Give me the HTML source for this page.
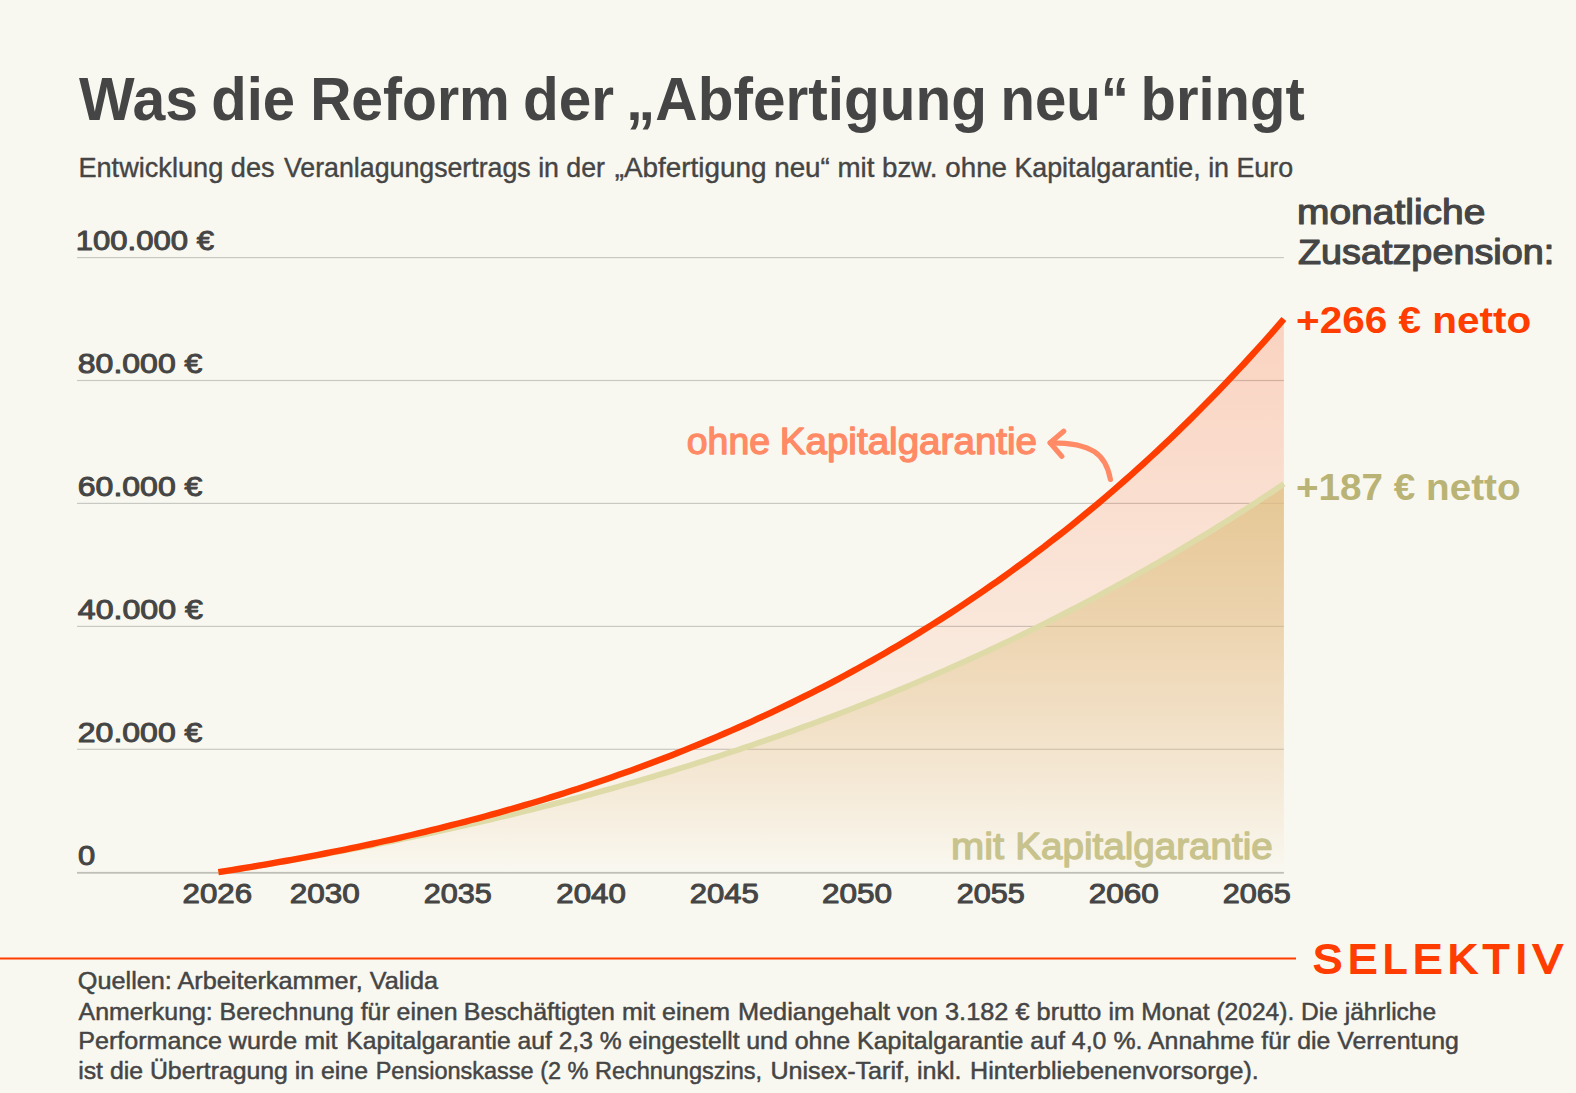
<!DOCTYPE html>
<html lang="de"><head><meta charset="utf-8"><title>Was die Reform der „Abfertigung neu“ bringt</title>
<style>
html,body{margin:0;padding:0;background:#f9f8f0;}
body{width:1576px;height:1093px;overflow:hidden;}
svg text{font-family:"Liberation Sans",sans-serif;white-space:pre;}
</style></head><body>
<svg width="1576" height="1093" viewBox="0 0 1576 1093" style="display:block">
<defs>
<linearGradient id="go" x1="0" y1="319.1" x2="0" y2="872.2" gradientUnits="userSpaceOnUse">
<stop offset="0" stop-color="#ff3d00" stop-opacity="0.20"/><stop offset="1" stop-color="#ff3d00" stop-opacity="0.0"/></linearGradient>
<linearGradient id="gt" x1="0" y1="483.8" x2="0" y2="872.2" gradientUnits="userSpaceOnUse">
<stop offset="0" stop-color="#e0c184" stop-opacity="0.78"/><stop offset="1" stop-color="#e0c184" stop-opacity="0.0"/></linearGradient>
</defs>
<rect width="1576" height="1093" fill="#f9f8f0"/>
<rect x="77" y="257.0" width="1206.9" height="1.2" fill="#c9c9c3"/>
<rect x="77" y="379.9" width="1206.9" height="1.2" fill="#c9c9c3"/>
<rect x="77" y="502.8" width="1206.9" height="1.2" fill="#c9c9c3"/>
<rect x="77" y="625.8" width="1206.9" height="1.2" fill="#c9c9c3"/>
<rect x="77" y="748.7" width="1206.9" height="1.2" fill="#c9c9c3"/>
<rect x="77" y="871.9" width="1206.9" height="1.8" fill="#bfbfb8"/>
<path d="M218.4,872.2 L225.1,871.2 L231.7,870.1 L238.4,869.0 L245.0,867.9 L251.7,866.8 L258.4,865.7 L265.0,864.6 L271.7,863.4 L278.3,862.2 L285.0,861.0 L291.7,859.8 L298.3,858.6 L305.0,857.4 L311.6,856.1 L318.3,854.8 L325.0,853.5 L331.6,852.2 L338.3,850.9 L344.9,849.6 L351.6,848.2 L358.2,846.8 L364.9,845.4 L371.6,844.0 L378.2,842.5 L384.9,841.0 L391.5,839.6 L398.2,838.1 L404.9,836.5 L411.5,835.0 L418.2,833.4 L424.8,831.8 L431.5,830.2 L438.2,828.6 L444.8,826.9 L451.5,825.2 L458.1,823.5 L464.8,821.8 L471.5,820.0 L478.1,818.3 L484.8,816.5 L491.4,814.6 L498.1,812.8 L504.8,810.9 L511.4,809.0 L518.1,807.1 L524.7,805.2 L531.4,803.2 L538.1,801.2 L544.7,799.2 L551.4,797.1 L558.0,795.1 L564.7,793.0 L571.4,790.8 L578.0,788.7 L584.7,786.5 L591.3,784.3 L598.0,782.0 L604.7,779.8 L611.3,777.5 L618.0,775.1 L624.6,772.8 L631.3,770.4 L637.9,767.9 L644.6,765.5 L651.3,763.0 L657.9,760.5 L664.6,757.9 L671.2,755.4 L677.9,752.8 L684.6,750.1 L691.2,747.4 L697.9,744.7 L704.5,742.0 L711.2,739.2 L717.9,736.4 L724.5,733.5 L731.2,730.6 L737.8,727.7 L744.5,724.8 L751.2,721.8 L757.8,718.7 L764.5,715.7 L771.1,712.6 L777.8,709.4 L784.5,706.2 L791.1,703.0 L797.8,699.7 L804.4,696.4 L811.1,693.1 L817.8,689.7 L824.4,686.3 L831.1,682.8 L837.7,679.3 L844.4,675.7 L851.1,672.1 L857.7,668.5 L864.4,664.8 L871.0,661.1 L877.7,657.3 L884.4,653.5 L891.0,649.6 L897.7,645.7 L904.3,641.7 L911.0,637.7 L917.6,633.7 L924.3,629.6 L931.0,625.4 L937.6,621.2 L944.3,617.0 L950.9,612.7 L957.6,608.3 L964.3,603.9 L970.9,599.4 L977.6,594.9 L984.2,590.4 L990.9,585.7 L997.6,581.1 L1004.2,576.3 L1010.9,571.5 L1017.5,566.7 L1024.2,561.8 L1030.9,556.8 L1037.5,551.8 L1044.2,546.8 L1050.8,541.6 L1057.5,536.4 L1064.2,531.2 L1070.8,525.9 L1077.5,520.5 L1084.1,515.0 L1090.8,509.5 L1097.5,504.0 L1104.1,498.3 L1110.8,492.6 L1117.4,486.9 L1124.1,481.0 L1130.8,475.1 L1137.4,469.2 L1144.1,463.1 L1150.7,457.0 L1157.4,450.8 L1164.0,444.6 L1170.7,438.3 L1177.4,431.9 L1184.0,425.4 L1190.7,418.9 L1197.3,412.3 L1204.0,405.6 L1210.7,398.8 L1217.3,392.0 L1224.0,385.0 L1230.6,378.0 L1237.3,370.9 L1244.0,363.8 L1250.6,356.5 L1257.3,349.2 L1263.9,341.8 L1270.6,334.3 L1277.3,326.7 L1283.9,319.0 L1283.9,872.2 L218.4,872.2 Z" fill="url(#go)"/>
<path d="M218.4,872.2 L225.1,871.2 L231.7,870.1 L238.4,869.0 L245.0,868.0 L251.7,866.9 L258.4,865.8 L265.0,864.7 L271.7,863.6 L278.3,862.4 L285.0,861.3 L291.7,860.1 L298.3,859.0 L305.0,857.8 L311.6,856.6 L318.3,855.4 L325.0,854.2 L331.6,852.9 L338.3,851.7 L344.9,850.4 L351.6,849.2 L358.2,847.9 L364.9,846.6 L371.6,845.3 L378.2,844.0 L384.9,842.6 L391.5,841.3 L398.2,839.9 L404.9,838.5 L411.5,837.2 L418.2,835.7 L424.8,834.3 L431.5,832.9 L438.2,831.5 L444.8,830.0 L451.5,828.5 L458.1,827.0 L464.8,825.5 L471.5,824.0 L478.1,822.5 L484.8,820.9 L491.4,819.4 L498.1,817.8 L504.8,816.2 L511.4,814.6 L518.1,813.0 L524.7,811.3 L531.4,809.7 L538.1,808.0 L544.7,806.3 L551.4,804.6 L558.0,802.9 L564.7,801.2 L571.4,799.4 L578.0,797.7 L584.7,795.9 L591.3,794.1 L598.0,792.2 L604.7,790.4 L611.3,788.6 L618.0,786.7 L624.6,784.8 L631.3,782.9 L637.9,781.0 L644.6,779.0 L651.3,777.1 L657.9,775.1 L664.6,773.1 L671.2,771.1 L677.9,769.0 L684.6,767.0 L691.2,764.9 L697.9,762.8 L704.5,760.7 L711.2,758.6 L717.9,756.4 L724.5,754.3 L731.2,752.1 L737.8,749.9 L744.5,747.6 L751.2,745.4 L757.8,743.1 L764.5,740.8 L771.1,738.5 L777.8,736.2 L784.5,733.8 L791.1,731.4 L797.8,729.0 L804.4,726.6 L811.1,724.2 L817.8,721.7 L824.4,719.2 L831.1,716.7 L837.7,714.2 L844.4,711.7 L851.1,709.1 L857.7,706.5 L864.4,703.9 L871.0,701.2 L877.7,698.6 L884.4,695.9 L891.0,693.2 L897.7,690.4 L904.3,687.7 L911.0,684.9 L917.6,682.1 L924.3,679.2 L931.0,676.4 L937.6,673.5 L944.3,670.6 L950.9,667.6 L957.6,664.7 L964.3,661.7 L970.9,658.7 L977.6,655.6 L984.2,652.6 L990.9,649.5 L997.6,646.4 L1004.2,643.2 L1010.9,640.0 L1017.5,636.8 L1024.2,633.6 L1030.9,630.3 L1037.5,627.1 L1044.2,623.8 L1050.8,620.4 L1057.5,617.0 L1064.2,613.6 L1070.8,610.2 L1077.5,606.8 L1084.1,603.3 L1090.8,599.8 L1097.5,596.2 L1104.1,592.6 L1110.8,589.0 L1117.4,585.4 L1124.1,581.7 L1130.8,578.0 L1137.4,574.3 L1144.1,570.5 L1150.7,566.8 L1157.4,562.9 L1164.0,559.1 L1170.7,555.2 L1177.4,551.3 L1184.0,547.3 L1190.7,543.3 L1197.3,539.3 L1204.0,535.2 L1210.7,531.2 L1217.3,527.0 L1224.0,522.9 L1230.6,518.7 L1237.3,514.5 L1244.0,510.2 L1250.6,505.9 L1257.3,501.6 L1263.9,497.2 L1270.6,492.8 L1277.3,488.4 L1283.9,483.9 L1283.9,872.2 L218.4,872.2 Z" fill="url(#gt)"/>
<path d="M218.4,872.2 L225.1,871.2 L231.7,870.1 L238.4,869.0 L245.0,868.0 L251.7,866.9 L258.4,865.8 L265.0,864.7 L271.7,863.6 L278.3,862.4 L285.0,861.3 L291.7,860.1 L298.3,859.0 L305.0,857.8 L311.6,856.6 L318.3,855.4 L325.0,854.2 L331.6,852.9 L338.3,851.7 L344.9,850.4 L351.6,849.2 L358.2,847.9 L364.9,846.6 L371.6,845.3 L378.2,844.0 L384.9,842.6 L391.5,841.3 L398.2,839.9 L404.9,838.5 L411.5,837.2 L418.2,835.7 L424.8,834.3 L431.5,832.9 L438.2,831.5 L444.8,830.0 L451.5,828.5 L458.1,827.0 L464.8,825.5 L471.5,824.0 L478.1,822.5 L484.8,820.9 L491.4,819.4 L498.1,817.8 L504.8,816.2 L511.4,814.6 L518.1,813.0 L524.7,811.3 L531.4,809.7 L538.1,808.0 L544.7,806.3 L551.4,804.6 L558.0,802.9 L564.7,801.2 L571.4,799.4 L578.0,797.7 L584.7,795.9 L591.3,794.1 L598.0,792.2 L604.7,790.4 L611.3,788.6 L618.0,786.7 L624.6,784.8 L631.3,782.9 L637.9,781.0 L644.6,779.0 L651.3,777.1 L657.9,775.1 L664.6,773.1 L671.2,771.1 L677.9,769.0 L684.6,767.0 L691.2,764.9 L697.9,762.8 L704.5,760.7 L711.2,758.6 L717.9,756.4 L724.5,754.3 L731.2,752.1 L737.8,749.9 L744.5,747.6 L751.2,745.4 L757.8,743.1 L764.5,740.8 L771.1,738.5 L777.8,736.2 L784.5,733.8 L791.1,731.4 L797.8,729.0 L804.4,726.6 L811.1,724.2 L817.8,721.7 L824.4,719.2 L831.1,716.7 L837.7,714.2 L844.4,711.7 L851.1,709.1 L857.7,706.5 L864.4,703.9 L871.0,701.2 L877.7,698.6 L884.4,695.9 L891.0,693.2 L897.7,690.4 L904.3,687.7 L911.0,684.9 L917.6,682.1 L924.3,679.2 L931.0,676.4 L937.6,673.5 L944.3,670.6 L950.9,667.6 L957.6,664.7 L964.3,661.7 L970.9,658.7 L977.6,655.6 L984.2,652.6 L990.9,649.5 L997.6,646.4 L1004.2,643.2 L1010.9,640.0 L1017.5,636.8 L1024.2,633.6 L1030.9,630.3 L1037.5,627.1 L1044.2,623.8 L1050.8,620.4 L1057.5,617.0 L1064.2,613.6 L1070.8,610.2 L1077.5,606.8 L1084.1,603.3 L1090.8,599.8 L1097.5,596.2 L1104.1,592.6 L1110.8,589.0 L1117.4,585.4 L1124.1,581.7 L1130.8,578.0 L1137.4,574.3 L1144.1,570.5 L1150.7,566.8 L1157.4,562.9 L1164.0,559.1 L1170.7,555.2 L1177.4,551.3 L1184.0,547.3 L1190.7,543.3 L1197.3,539.3 L1204.0,535.2 L1210.7,531.2 L1217.3,527.0 L1224.0,522.9 L1230.6,518.7 L1237.3,514.5 L1244.0,510.2 L1250.6,505.9 L1257.3,501.6 L1263.9,497.2 L1270.6,492.8 L1277.3,488.4 L1283.9,483.9" fill="none" stroke="#dfdba8" stroke-width="5.8" stroke-linejoin="round"/>
<path d="M218.4,872.2 L225.1,871.2 L231.7,870.1 L238.4,869.0 L245.0,867.9 L251.7,866.8 L258.4,865.7 L265.0,864.6 L271.7,863.4 L278.3,862.2 L285.0,861.0 L291.7,859.8 L298.3,858.6 L305.0,857.4 L311.6,856.1 L318.3,854.8 L325.0,853.5 L331.6,852.2 L338.3,850.9 L344.9,849.6 L351.6,848.2 L358.2,846.8 L364.9,845.4 L371.6,844.0 L378.2,842.5 L384.9,841.0 L391.5,839.6 L398.2,838.1 L404.9,836.5 L411.5,835.0 L418.2,833.4 L424.8,831.8 L431.5,830.2 L438.2,828.6 L444.8,826.9 L451.5,825.2 L458.1,823.5 L464.8,821.8 L471.5,820.0 L478.1,818.3 L484.8,816.5 L491.4,814.6 L498.1,812.8 L504.8,810.9 L511.4,809.0 L518.1,807.1 L524.7,805.2 L531.4,803.2 L538.1,801.2 L544.7,799.2 L551.4,797.1 L558.0,795.1 L564.7,793.0 L571.4,790.8 L578.0,788.7 L584.7,786.5 L591.3,784.3 L598.0,782.0 L604.7,779.8 L611.3,777.5 L618.0,775.1 L624.6,772.8 L631.3,770.4 L637.9,767.9 L644.6,765.5 L651.3,763.0 L657.9,760.5 L664.6,757.9 L671.2,755.4 L677.9,752.8 L684.6,750.1 L691.2,747.4 L697.9,744.7 L704.5,742.0 L711.2,739.2 L717.9,736.4 L724.5,733.5 L731.2,730.6 L737.8,727.7 L744.5,724.8 L751.2,721.8 L757.8,718.7 L764.5,715.7 L771.1,712.6 L777.8,709.4 L784.5,706.2 L791.1,703.0 L797.8,699.7 L804.4,696.4 L811.1,693.1 L817.8,689.7 L824.4,686.3 L831.1,682.8 L837.7,679.3 L844.4,675.7 L851.1,672.1 L857.7,668.5 L864.4,664.8 L871.0,661.1 L877.7,657.3 L884.4,653.5 L891.0,649.6 L897.7,645.7 L904.3,641.7 L911.0,637.7 L917.6,633.7 L924.3,629.6 L931.0,625.4 L937.6,621.2 L944.3,617.0 L950.9,612.7 L957.6,608.3 L964.3,603.9 L970.9,599.4 L977.6,594.9 L984.2,590.4 L990.9,585.7 L997.6,581.1 L1004.2,576.3 L1010.9,571.5 L1017.5,566.7 L1024.2,561.8 L1030.9,556.8 L1037.5,551.8 L1044.2,546.8 L1050.8,541.6 L1057.5,536.4 L1064.2,531.2 L1070.8,525.9 L1077.5,520.5 L1084.1,515.0 L1090.8,509.5 L1097.5,504.0 L1104.1,498.3 L1110.8,492.6 L1117.4,486.9 L1124.1,481.0 L1130.8,475.1 L1137.4,469.2 L1144.1,463.1 L1150.7,457.0 L1157.4,450.8 L1164.0,444.6 L1170.7,438.3 L1177.4,431.9 L1184.0,425.4 L1190.7,418.9 L1197.3,412.3 L1204.0,405.6 L1210.7,398.8 L1217.3,392.0 L1224.0,385.0 L1230.6,378.0 L1237.3,370.9 L1244.0,363.8 L1250.6,356.5 L1257.3,349.2 L1263.9,341.8 L1270.6,334.3 L1277.3,326.7 L1283.9,319.0" fill="none" stroke="#ff3d00" stroke-width="6.4" stroke-linejoin="round"/>
<g fill="none" stroke="#ff8a65" stroke-width="5.2" stroke-linecap="round" stroke-linejoin="round"><path d="M1110.4,479.4 C1106,454.5 1092,442.6 1050.3,442.8"/><path d="M1063.7,431.3 L1050.1,442.8 L1061.8,456.4"/></g>
<rect x="0" y="957.5" width="1296" height="2" fill="#ff3d00"/>
<text y="119.7" font-size="60.6" font-weight="700" fill="#454545"><tspan class="u" x="79.1" textLength="119.0" lengthAdjust="spacingAndGlyphs">Was</tspan> <tspan class="u" x="211.2" textLength="83.9" lengthAdjust="spacingAndGlyphs">die</tspan> <tspan class="u" x="310.2" textLength="199.6" lengthAdjust="spacingAndGlyphs">Reform</tspan> <tspan class="u" x="523.0" textLength="91.1" lengthAdjust="spacingAndGlyphs">der</tspan> <tspan class="u" x="626.1" textLength="361.0" lengthAdjust="spacingAndGlyphs">„Abfertigung</tspan> <tspan class="u" x="1000.6" textLength="128.3" lengthAdjust="spacingAndGlyphs">neu“</tspan> <tspan class="u" x="1140.5" textLength="164.3" lengthAdjust="spacingAndGlyphs">bringt</tspan></text>
<text y="176.7" font-size="27.8" font-weight="400" fill="#454545" stroke="#454545" stroke-width="0.4" stroke-linejoin="round"><tspan class="u" x="78.4" textLength="196.2" lengthAdjust="spacingAndGlyphs">Entwicklung des</tspan> <tspan class="u" x="284.0" textLength="321.0" lengthAdjust="spacingAndGlyphs">Veranlagungsertrags in der</tspan> <tspan class="u" x="614.7" textLength="215.2" lengthAdjust="spacingAndGlyphs">„Abfertigung neu“</tspan> <tspan class="u" x="837.4" textLength="169.6" lengthAdjust="spacingAndGlyphs">mit bzw. ohne</tspan> <tspan class="u" x="1014.4" textLength="278.7" lengthAdjust="spacingAndGlyphs">Kapitalgarantie, in Euro</tspan></text>
<text class="u" x="75.8" y="250.3" font-size="27.2" font-weight="400" fill="#454545" stroke="#454545" stroke-width="1.0" stroke-linejoin="round" textLength="138.1" lengthAdjust="spacingAndGlyphs">100.000 €</text>
<text class="u" x="77.8" y="373.2" font-size="27.2" font-weight="400" fill="#454545" stroke="#454545" stroke-width="1.0" stroke-linejoin="round" textLength="124.6" lengthAdjust="spacingAndGlyphs">80.000 €</text>
<text class="u" x="77.8" y="496.1" font-size="27.2" font-weight="400" fill="#454545" stroke="#454545" stroke-width="1.0" stroke-linejoin="round" textLength="124.6" lengthAdjust="spacingAndGlyphs">60.000 €</text>
<text class="u" x="77.8" y="619.1" font-size="27.2" font-weight="400" fill="#454545" stroke="#454545" stroke-width="1.0" stroke-linejoin="round" textLength="125.1" lengthAdjust="spacingAndGlyphs">40.000 €</text>
<text class="u" x="77.8" y="742.0" font-size="27.2" font-weight="400" fill="#454545" stroke="#454545" stroke-width="1.0" stroke-linejoin="round" textLength="124.6" lengthAdjust="spacingAndGlyphs">20.000 €</text>
<text class="u" x="78.1" y="864.9" font-size="27.2" font-weight="400" fill="#454545" stroke="#454545" stroke-width="1.0" stroke-linejoin="round" textLength="17.2" lengthAdjust="spacingAndGlyphs">0</text>
<text class="u" x="182.6" y="903.2" font-size="27.2" font-weight="400" fill="#454545" stroke="#454545" stroke-width="1.0" stroke-linejoin="round" textLength="69.5" lengthAdjust="spacingAndGlyphs">2026</text>
<text class="u" x="289.8" y="903.2" font-size="27.2" font-weight="400" fill="#454545" stroke="#454545" stroke-width="1.0" stroke-linejoin="round" textLength="70.0" lengthAdjust="spacingAndGlyphs">2030</text>
<text class="u" x="423.8" y="903.2" font-size="27.2" font-weight="400" fill="#454545" stroke="#454545" stroke-width="1.0" stroke-linejoin="round" textLength="68.0" lengthAdjust="spacingAndGlyphs">2035</text>
<text class="u" x="556.3" y="903.2" font-size="27.2" font-weight="400" fill="#454545" stroke="#454545" stroke-width="1.0" stroke-linejoin="round" textLength="69.5" lengthAdjust="spacingAndGlyphs">2040</text>
<text class="u" x="689.8" y="903.2" font-size="27.2" font-weight="400" fill="#454545" stroke="#454545" stroke-width="1.0" stroke-linejoin="round" textLength="69.0" lengthAdjust="spacingAndGlyphs">2045</text>
<text class="u" x="821.9" y="903.2" font-size="27.2" font-weight="400" fill="#454545" stroke="#454545" stroke-width="1.0" stroke-linejoin="round" textLength="70.1" lengthAdjust="spacingAndGlyphs">2050</text>
<text class="u" x="956.8" y="903.2" font-size="27.2" font-weight="400" fill="#454545" stroke="#454545" stroke-width="1.0" stroke-linejoin="round" textLength="68.0" lengthAdjust="spacingAndGlyphs">2055</text>
<text class="u" x="1088.7" y="903.2" font-size="27.2" font-weight="400" fill="#454545" stroke="#454545" stroke-width="1.0" stroke-linejoin="round" textLength="70.1" lengthAdjust="spacingAndGlyphs">2060</text>
<text class="u" x="1222.7" y="903.2" font-size="27.2" font-weight="400" fill="#454545" stroke="#454545" stroke-width="1.0" stroke-linejoin="round" textLength="68.1" lengthAdjust="spacingAndGlyphs">2065</text>
<text class="u" x="1297.0" y="223.9" font-size="35.8" font-weight="400" fill="#454545" stroke="#454545" stroke-width="1.2" stroke-linejoin="round" textLength="188.4" lengthAdjust="spacingAndGlyphs">monatliche</text>
<text class="u" x="1298.0" y="263.9" font-size="35.8" font-weight="400" fill="#454545" stroke="#454545" stroke-width="1.2" stroke-linejoin="round" textLength="256.2" lengthAdjust="spacingAndGlyphs">Zusatzpension:</text>
<text class="u" x="1296.0" y="333.0" font-size="37.4" font-weight="700" fill="#ff3d00" textLength="235.2" lengthAdjust="spacingAndGlyphs">+266 € netto</text>
<text class="u" x="1296.0" y="499.9" font-size="37.0" font-weight="700" fill="#b9b375" textLength="224.6" lengthAdjust="spacingAndGlyphs">+187 € netto</text>
<text y="453.9" font-size="36.3" font-weight="400" fill="#ff8a65" stroke="#ff8a65" stroke-width="1.3" stroke-linejoin="round"><tspan class="u" x="686.8" textLength="83.2" lengthAdjust="spacingAndGlyphs">ohne</tspan> <tspan class="u" x="779.7" textLength="257.4" lengthAdjust="spacingAndGlyphs">Kapitalgarantie</tspan></text>
<text y="858.6" font-size="36.6" font-weight="400" fill="#c8c38c" stroke="#c8c38c" stroke-width="1.3" stroke-linejoin="round"><tspan class="u" x="951.0" textLength="53.1" lengthAdjust="spacingAndGlyphs">mit</tspan> <tspan class="u" x="1015.3" textLength="257.5" lengthAdjust="spacingAndGlyphs">Kapitalgarantie</tspan></text>
<text class="u" x="1313.0" y="973.4" font-size="40.6" font-weight="400" fill="#ff3d00" stroke="#ff3d00" stroke-width="2.0" stroke-linejoin="miter" letter-spacing="5.5" textLength="255.1" lengthAdjust="spacingAndGlyphs">SELEKTIV</text>
<text class="u" x="77.8" y="989.1" font-size="24.8" font-weight="400" fill="#454545" stroke="#454545" stroke-width="0.5" stroke-linejoin="round" textLength="360.2" lengthAdjust="spacingAndGlyphs">Quellen: Arbeiterkammer, Valida</text>
<text y="1020.1" font-size="24.8" font-weight="400" fill="#454545" stroke="#454545" stroke-width="0.5" stroke-linejoin="round"><tspan class="u" x="78.6" textLength="378.9" lengthAdjust="spacingAndGlyphs">Anmerkung: Berechnung für einen</tspan> <tspan class="u" x="463.8" textLength="266.3" lengthAdjust="spacingAndGlyphs">Beschäftigten mit einem</tspan> <tspan class="u" x="737.9" textLength="363.5" lengthAdjust="spacingAndGlyphs">Mediangehalt von 3.182 € brutto</tspan> <tspan class="u" x="1108.6" textLength="327.6" lengthAdjust="spacingAndGlyphs">im Monat (2024). Die jährliche</tspan></text>
<text y="1049.3" font-size="24.8" font-weight="400" fill="#454545" stroke="#454545" stroke-width="0.5" stroke-linejoin="round"><tspan class="u" x="78.2" textLength="259.4" lengthAdjust="spacingAndGlyphs">Performance wurde mit</tspan> <tspan class="u" x="346.3" textLength="393.2" lengthAdjust="spacingAndGlyphs">Kapitalgarantie auf 2,3 % eingestellt</tspan> <tspan class="u" x="746.2" textLength="360.3" lengthAdjust="spacingAndGlyphs">und ohne Kapitalgarantie auf 4,0</tspan> <tspan class="u" x="1113.5" textLength="345.4" lengthAdjust="spacingAndGlyphs">%. Annahme für die Verrentung</tspan></text>
<text y="1078.7" font-size="24.8" font-weight="400" fill="#454545" stroke="#454545" stroke-width="0.5" stroke-linejoin="round"><tspan class="u" x="78.2" textLength="289.8" lengthAdjust="spacingAndGlyphs">ist die Übertragung in eine</tspan> <tspan class="u" x="375.7" textLength="386.3" lengthAdjust="spacingAndGlyphs">Pensionskasse (2 % Rechnungszins,</tspan> <tspan class="u" x="770.4" textLength="191.2" lengthAdjust="spacingAndGlyphs">Unisex-Tarif, inkl.</tspan> <tspan class="u" x="970.1" textLength="288.7" lengthAdjust="spacingAndGlyphs">Hinterbliebenenvorsorge).</tspan></text>
</svg>
</body></html>
